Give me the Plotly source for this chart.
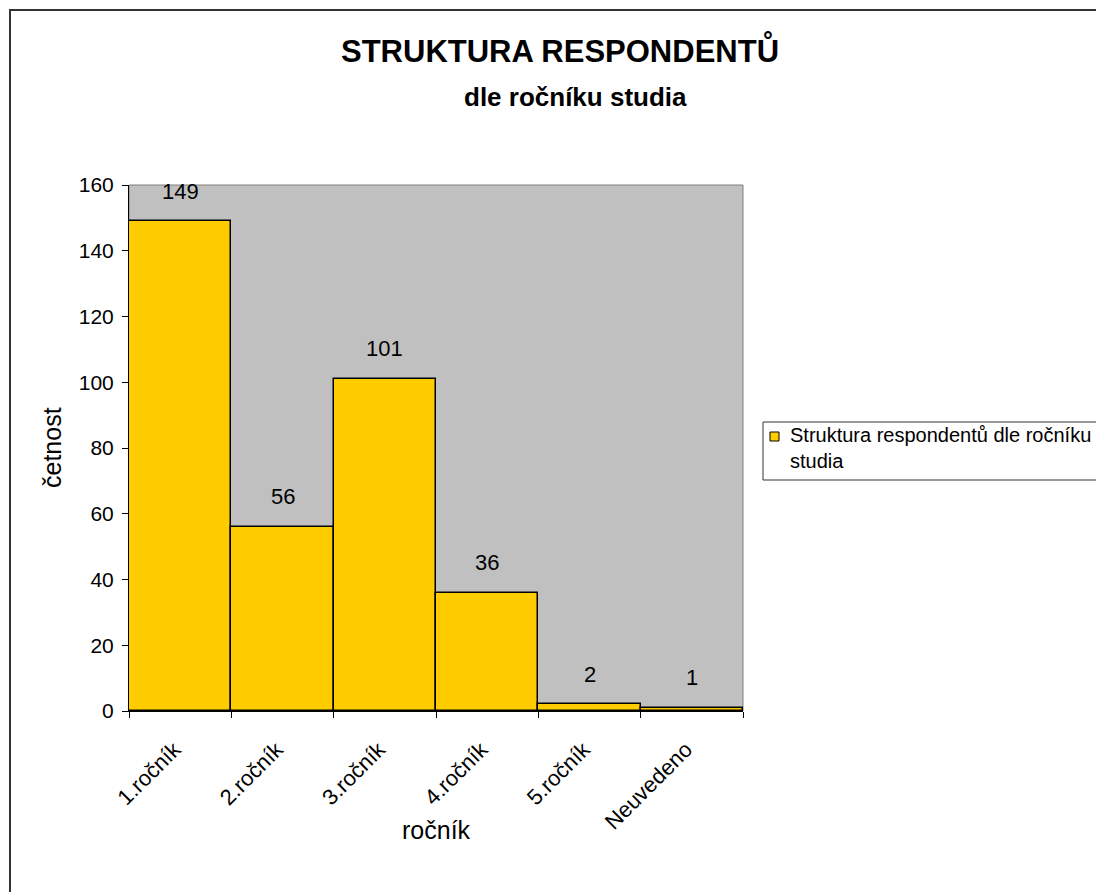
import plotly.graph_objects as go

categories = ["1.ročník", "2.ročník", "3.ročník", "4.ročník", "5.ročník", "Neuvedeno"]
values = [149, 56, 101, 36, 2, 1]
series_name = "Struktura respondentů dle ročníku<br>studia"
y_ticks = [0, 20, 40, 60, 80, 100, 120, 140, 160]

FONT = "Liberation Sans, Arial, sans-serif"
BAR_COLOR = "#FFCC00"
OFF = 8  # page body margin
W, H = 1104 - OFF, 892 - OFF
L, T = 129 - OFF, 185 - OFF
R, B = W - (743 - OFF), H - (711 - OFF)
pw, ph = W - L - R, H - T - B

def px_x(x):
    return (x - OFF - L) / pw

def px_y(y):
    return (H - B - (y - OFF)) / ph

fig = go.Figure()
fig.add_trace(go.Bar(
    x=categories, y=values, name=series_name,
    marker=dict(color=BAR_COLOR, line=dict(color="black", width=1.5)),
    showlegend=False,
))

annotations = [
    dict(x=c, y=v, xref="x", yref="y", text=str(v), showarrow=False,
         yanchor="middle", yshift=30, font=dict(size=22, color="black"))
    for c, v in zip(categories, values)
]
annotations += [
    dict(text="<b>STRUKTURA RESPONDENTŮ</b>", x=px_x(560), y=px_y(50),
         xref="paper", yref="paper", xanchor="center", yanchor="middle",
         showarrow=False, font=dict(size=31)),
    dict(text="<b>dle ročníku studia</b>", x=px_x(575), y=px_y(97),
         xref="paper", yref="paper", xanchor="center", yanchor="middle",
         showarrow=False, font=dict(size=26)),
    dict(text="ročník", x=px_x(436), y=px_y(830), xref="paper", yref="paper",
         xanchor="center", yanchor="middle", showarrow=False, font=dict(size=25)),
    dict(text="četnost", x=px_x(52), y=px_y(448), xref="paper", yref="paper",
         xanchor="center", yanchor="middle", textangle=-90, showarrow=False,
         font=dict(size=25)),
    # legend text
    dict(text=series_name, x=px_x(788), y=px_y(448), xref="paper", yref="paper",
         xanchor="left", yanchor="middle", align="left", showarrow=False,
         font=dict(size=20)),
]

fig.update_layout(
    width=W, height=H,
    margin=dict(l=L, r=R, t=T, b=B, autoexpand=False),
    paper_bgcolor="white", plot_bgcolor="#C0C0C0",
    bargap=0,
    font=dict(family=FONT, color="black", size=21),
    showlegend=False,
    xaxis=dict(
        type="category", tickangle=-45, ticks="outside", tickson="boundaries",
        ticklen=6, tickcolor="black", showline=True, linecolor="black", linewidth=1,
        showgrid=False, tickfont=dict(size=22),
        ticklabelstandoff=16, ticklabelshift=-6,
    ),
    yaxis=dict(
        range=[0, 160], tickvals=y_ticks, ticks="outside", ticklen=6,
        tickcolor="black", showline=True, linecolor="black", linewidth=1,
        showgrid=False, zeroline=False, tickfont=dict(size=21),
        ticklabelstandoff=4,
    ),
    annotations=annotations,
    shapes=[
        dict(type="rect", xref="paper", yref="paper",
             x0=px_x(10), y0=px_y(910), x1=px_x(1130), y1=px_y(10),
             line=dict(color="#333333", width=2), fillcolor="rgba(0,0,0,0)", layer="below"),
        dict(type="rect", xref="paper", yref="paper",
             x0=0, y0=0, x1=1, y1=1, line=dict(color="#808080", width=1),
             fillcolor="rgba(0,0,0,0)", layer="below"),
        # legend box
        dict(type="rect", xref="paper", yref="paper",
             x0=px_x(763), y0=px_y(480), x1=px_x(1140), y1=px_y(422),
             line=dict(color="#333333", width=1), fillcolor="white", layer="above"),
        # legend symbol
        dict(type="rect", xref="paper", yref="paper",
             x0=px_x(770), y0=px_y(441), x1=px_x(779), y1=px_y(432),
             line=dict(color="black", width=1), fillcolor=BAR_COLOR, layer="above"),
    ],
)

fig.write_html("out.html")
